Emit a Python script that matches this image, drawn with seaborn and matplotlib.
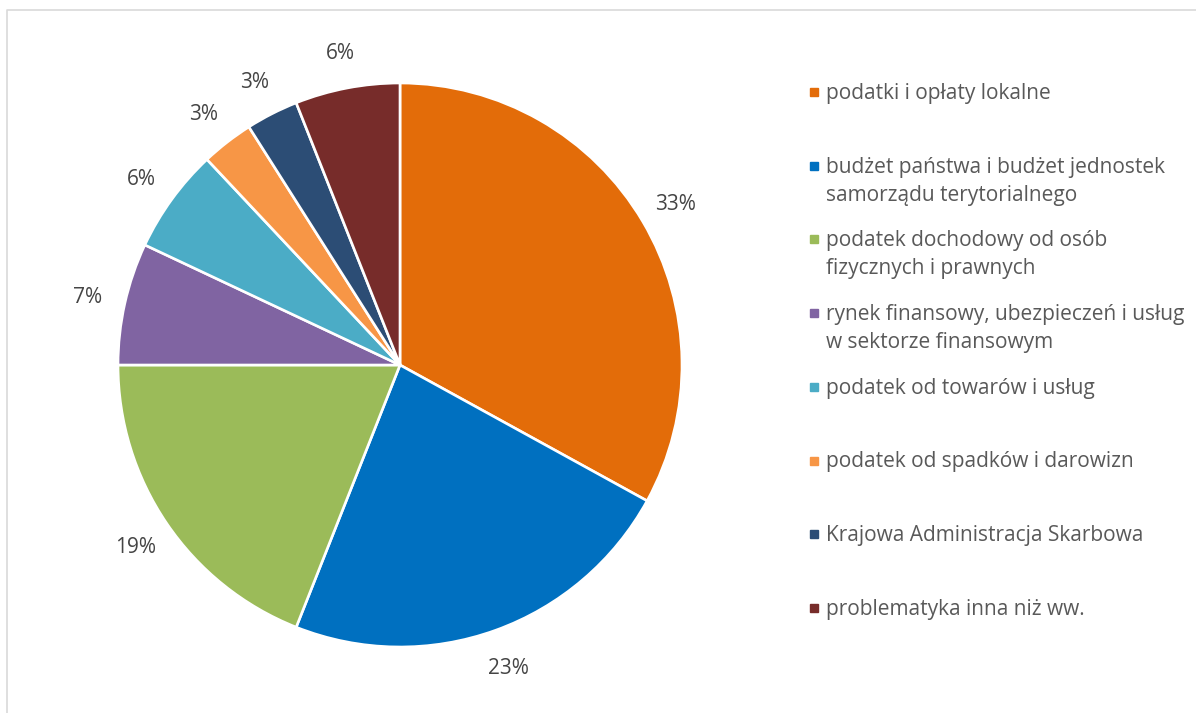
import matplotlib
matplotlib.use("Agg")
import matplotlib.pyplot as plt
import seaborn as sns
from matplotlib.patches import Rectangle
from matplotlib.lines import Line2D

sns.set_theme(style="white")
plt.rcParams["font.family"] = ["Open Sans", "DejaVu Sans"]

# data (percent shares, clockwise from 12 o'clock)
categories = [
    "podatki i opłaty lokalne",
    "budżet państwa i budżet jednostek\nsamorządu terytorialnego",
    "podatek dochodowy od osób\nfizycznych i prawnych",
    "rynek finansowy, ubezpieczeń i usług\nw sektorze finansowym",
    "podatek od towarów i usług",
    "podatek od spadków i darowizn",
    "Krajowa Administracja Skarbowa",
    "problematyka inna niż ww.",
]
shares = [33, 23, 19, 7, 6, 3, 3, 6]
colors = ["#E36C09", "#0070C0", "#9BBB59", "#8064A2",
          "#4BACC6", "#F79646", "#2C4D75", "#772C2A"]

LABEL_C = "#454545"
LEGEND_C = "#595959"
FS = 15
W, H = 1196, 713

fig = plt.figure(figsize=(W / 100, H / 100), dpi=100)

# pie centred at (400, 365) px, radius 282 px
cx, cy, r = 400, 365, 282
ax = fig.add_axes([(cx - r) / W, (H - cy - r) / H, 2 * r / W, 2 * r / H])
wedges, texts, autotexts = ax.pie(
    shares, colors=colors, startangle=90, counterclock=False,
    autopct="%1.0f%%", pctdistance=1.135,
    wedgeprops=dict(edgecolor="white", linewidth=1.9),
    textprops=dict(color=LABEL_C, fontsize=FS),
)
for t in autotexts:
    t.set_va("center_baseline")
ax.set_xlim(-1, 1)
ax.set_ylim(-1, 1)
ax.set_aspect("auto")
ax.axis("off")

# legend drawn by hand so first lines are evenly spaced like the original
y0, step, line_h = 92, 73.7, 28
for i, (lab, col) in enumerate(zip(categories, colors)):
    yc = y0 + i * step
    fig.patches.append(Rectangle((810 / W, 1 - (yc + 4) / H), 8 / W, 8 / H,
                                 transform=fig.transFigure, color=col))
    for k, line in enumerate(lab.split("\n")):
        fig.text(826 / W, 1 - (yc + 7 + k * line_h) / H, line, color=LEGEND_C,
                 fontsize=FS, va="baseline", ha="left")

# light grey chart border (top and left edges visible)
bc = "#D9D9D9"
fig.add_artist(Line2D([6.5 / W, 6.5 / W, 1.0], [0.0, 1 - 9.5 / H, 1 - 9.5 / H],
                      transform=fig.transFigure, color=bc, linewidth=1.2))

fig.savefig("out.png", dpi=100, facecolor="white")
